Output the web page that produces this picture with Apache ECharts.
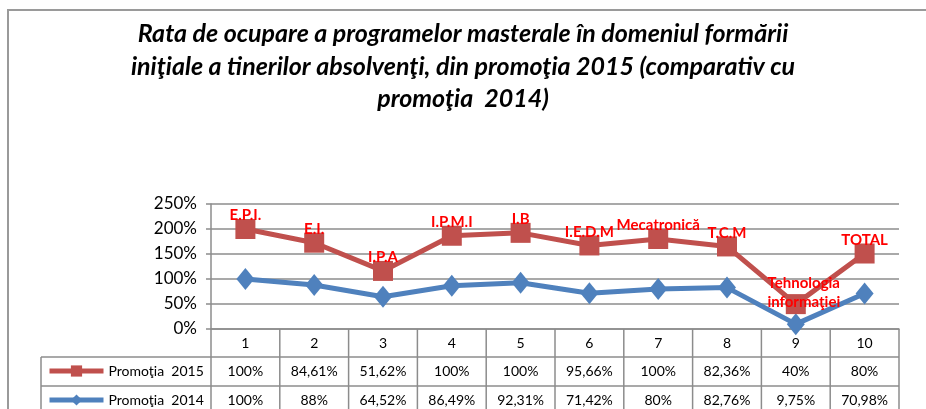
<!DOCTYPE html>
<html>
<head>
<meta charset="utf-8">
<script src="https://cdn.jsdelivr.net/npm/echarts@6/dist/echarts.min.js"></script>
<style>
  html, body { margin: 0; padding: 0; background: #fff; }
  #chart { width: 926px; height: 409px; }
</style>
</head>
<body>
<div id="chart"></div>
<script>
// data
const categories = ['1', '2', '3', '4', '5', '6', '7', '8', '9', '10']
const programs = ['E.P.I.', 'E.I.', 'I.P.A', 'I.P.M.I', 'I.B', 'I.E.D.M', 'Mecatronică', 'T.C.M', 'Tehnologia\ninformaţiei', 'TOTAL']
const promo2015 = [100, 84.61, 51.62, 100, 100, 95.66, 100, 82.36, 40, 80]
const promo2014 = [100, 88, 64.52, 86.49, 92.31, 71.42, 80, 82.76, 9.75, 70.98]
const seriesNames = ['Promoţia  2015', 'Promoţia  2014']
const yTicks = [0, 50, 100, 150, 200, 250]
const titleLines = [
  'Rata de ocupare a programelor masterale în domeniul formării',
  'iniţiale a tinerilor absolvenţi, din promoţia 2015 (comparativ cu',
  'promoţia  2014)'
]

const FONT = 'Lato, "Noto Sans", sans-serif'
const RED = '#C0504D'
const BLUE = '#4F81BD'
const GRID_COLOR = '#8c8c8c'

// plot frame
const gLeft = 211
const gRight = 899
const gTop = 204
const gBottom = 329
const colW = (gRight - gLeft) / categories.length
const legendLeft = 41
const rowH = [28, 29, 29]

const fmtPct = v => String(v).replace('.', ',') + '%'

function buildGraphics() {
  const els = []
  // title, one centred text per line
  titleLines.forEach((t, i) => els.push({
    type: 'text', silent: true,
    style: {
      text: t, x: 463, y: 34 + i * 32.5, align: 'center', verticalAlign: 'middle',
      fill: '#000', font: 'italic bold 25px ' + FONT
    }
  }))
  const line = (x1, y1, x2, y2) => els.push({
    type: 'line', silent: true,
    shape: { x1, y1, x2, y2 },
    style: { stroke: GRID_COLOR, lineWidth: 1.5 }
  })
  const y0 = gBottom
  const y1 = y0 + rowH[0]
  const y2 = y1 + rowH[1]
  const y3 = y2 + rowH[2]
  line(legendLeft, y1, gRight, y1)
  line(legendLeft, y2, gRight, y2)
  line(legendLeft, y3, gRight, y3)
  line(legendLeft, y1, legendLeft, y3)
  for (let i = 0; i <= categories.length; i++) {
    const x = gLeft + i * colW
    line(x, y0, x, y3)
  }
  const cell = (txt, cx, cy) => els.push({
    type: 'text', silent: true,
    style: {
      text: txt, x: cx, y: cy, align: 'center', verticalAlign: 'middle',
      fill: '#000', font: '14px ' + FONT
    }
  })
  categories.forEach((c, i) => {
    const cx = gLeft + (i + 0.5) * colW
    cell(c, cx, (y0 + y1) / 2)
    cell(fmtPct(promo2015[i]), cx, (y1 + y2) / 2)
    cell(fmtPct(promo2014[i]), cx, (y2 + y3) / 2)
  })
  // outer frame of the chart area
  els.push({
    type: 'rect', silent: true, z: -1,
    shape: { x: 8, y: 10, width: 960, height: 460 },
    style: { fill: 'none', stroke: '#9a9a9a', lineWidth: 2 }
  })
  return els
}

const chart = echarts.init(document.getElementById('chart'), null, { renderer: 'canvas' })

chart.setOption({
  animation: false,
  backgroundColor: '#fff',
  legend: {
    data: seriesNames,
    orient: 'vertical',
    left: 47,
    top: gBottom + rowH[0] + 7,
    padding: 0,
    itemWidth: 54,
    itemHeight: 14,
    itemGap: 15,
    lineStyle: { width: 5 },
    textStyle: { fontFamily: FONT, fontSize: 14, color: '#000' }
  },
  grid: {
    left: gLeft,
    right: 926 - gRight,
    top: gTop,
    bottom: 409 - gBottom,
    containLabel: false
  },
  xAxis: {
    type: 'category',
    data: categories,
    boundaryGap: true,
    axisLine: { show: true, lineStyle: { color: GRID_COLOR, width: 1.5 } },
    axisTick: { show: false },
    axisLabel: { show: false }
  },
  yAxis: {
    type: 'value',
    min: yTicks[0],
    max: yTicks[yTicks.length - 1],
    interval: 50,
    axisLine: { show: true, lineStyle: { color: GRID_COLOR, width: 1.5 } },
    axisTick: { show: true, length: 5, lineStyle: { color: GRID_COLOR, width: 1.5 } },
    axisLabel: {
      formatter: '{value}%',
      fontFamily: FONT,
      fontSize: 17,
      color: '#000',
      margin: 14
    },
    splitLine: { lineStyle: { color: GRID_COLOR, width: 1.5 } }
  },
  series: [
    {
      name: seriesNames[1],
      type: 'line',
      stack: 'total',
      data: promo2014,
      symbol: 'diamond',
      symbolSize: [18, 22],
      itemStyle: { color: BLUE },
      lineStyle: { color: BLUE, width: 5 },
      z: 3
    },
    {
      name: seriesNames[0],
      type: 'line',
      stack: 'total',
      data: promo2015.map((v, i) => {
        const item = { value: v }
        if (i === 8) {
          item.label = { position: 'inside', offset: [8, -11] }
        }
        return item
      }),
      symbol: 'rect',
      symbolSize: 20,
      itemStyle: { color: RED },
      lineStyle: { color: RED, width: 5 },
      label: {
        show: true,
        position: 'top',
        distance: 0,
        offset: [0, 6],
        formatter: p => programs[p.dataIndex],
        fontFamily: FONT,
        fontSize: 15,
        fontWeight: 'bold',
        color: '#FF0000',
        lineHeight: 19
      },
      z: 4
    }
  ],
  graphic: buildGraphics()
})
</script>
</body>
</html>
